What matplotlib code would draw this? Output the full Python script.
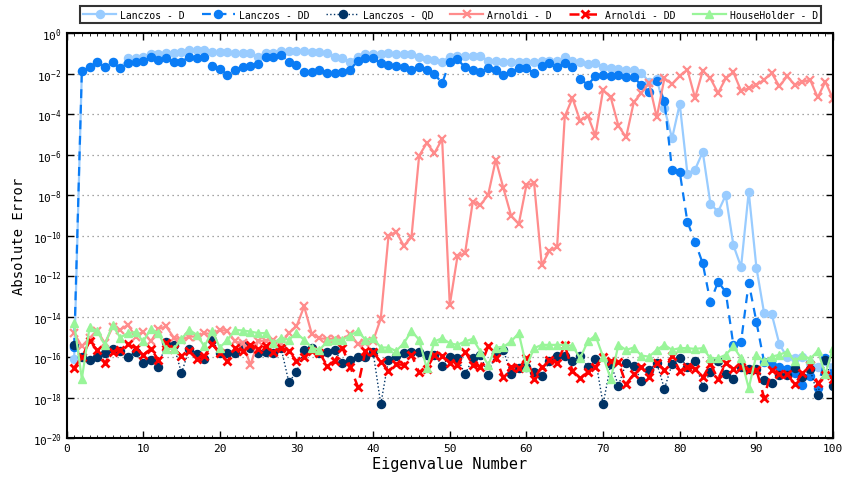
import matplotlib
matplotlib.use("Agg")
import matplotlib.pyplot as plt
from matplotlib.ticker import FixedLocator, FuncFormatter, MultipleLocator
import numpy as np

# exponents (log10 of the absolute error), eigenvalue 1..100
eig = np.arange(1, 101)

lanczos_d = [
    -16.1, -1.89, -1.69, -1.42, -1.69, -1.45, -1.74, -1.25, -1.22, -1.17,
    -1.05, -1.02, -0.97, -0.97, -0.94, -0.84, -0.84, -0.84, -0.94, -0.94,
    -0.94, -0.97, -1.00, -1.00, -1.17, -0.97, -0.97, -0.89, -0.89, -0.89,
    -0.89, -0.92, -0.92, -0.97, -1.17, -1.25, -1.42, -1.17, -1.05, -1.05,
    -1.05, -1.00, -1.05, -1.05, -1.05, -1.17, -1.28, -1.33, -1.42, -1.17,
    -1.12, -1.12, -1.12, -1.12, -1.37, -1.37, -1.42, -1.42, -1.45, -1.45,
    -1.42, -1.37, -1.37, -1.37, -1.20, -1.37, -1.45, -1.53, -1.50, -1.69,
    -1.74, -1.78, -1.81, -1.84, -1.98, -2.40, -2.27, -3.72, -5.20, -3.50,
    -6.94, -6.74, -5.87, -8.42, -8.83, -8.01, -10.48, -11.55, -7.84, -11.58,
    -13.82, -13.88, -15.37, -16.00, -16.06, -16.02, -16.30, -16.50, -16.20, -16.47,
]

lanczos_dd = [
    -15.5, -1.89, -1.69, -1.42, -1.69, -1.45, -1.74, -1.50, -1.42, -1.38,
    -1.20, -1.32, -1.25, -1.45, -1.42, -1.17, -1.23, -1.17, -1.61, -1.78,
    -2.06, -1.81, -1.69, -1.61, -1.53, -1.17, -1.17, -1.07, -1.42, -1.56,
    -1.91, -1.91, -1.81, -1.98, -1.98, -1.91, -1.81, -1.37, -1.25, -1.25,
    -1.50, -1.56, -1.61, -1.69, -1.84, -1.69, -1.81, -2.02, -2.48, -1.42,
    -1.30, -1.69, -1.81, -1.94, -1.74, -1.81, -2.07, -1.91, -1.74, -1.74,
    -1.98, -1.61, -1.50, -1.69, -1.50, -1.69, -2.27, -2.55, -2.14, -2.07,
    -2.14, -2.07, -2.19, -2.19, -2.57, -2.93, -2.35, -3.37, -6.77, -6.86,
    -9.33, -10.31, -11.38, -13.28, -12.29, -12.78, -15.42, -15.25, -12.32, -14.26,
    -16.24, -16.40, -16.49, -16.57, -16.77, -17.36, -16.93, -17.52, -16.04, -16.90,
]

lanczos_qd = [
    -15.40, -16.02, -16.14, -16.02, -15.81, -15.60, -15.70, -15.98, -15.76, -16.30,
    -16.14, -16.47, -15.27, -15.43, -16.80, -15.60, -15.86, -16.09, -15.15, -15.81,
    -15.81, -15.81, -15.43, -15.56, -15.81, -15.73, -15.81, -15.56, -17.24, -16.75,
    -15.65, -15.53, -15.81, -15.76, -15.65, -16.30, -16.14, -15.98, -15.98, -15.76,
    -18.33, -16.14, -15.93, -15.81, -15.76, -15.76, -15.89, -15.90, -16.42, -15.98,
    -16.06, -16.85, -16.06, -15.90, -16.88, -15.80, -15.65, -16.85, -16.55, -16.47,
    -16.72, -16.96, -16.22, -15.93, -15.93, -16.22, -15.93, -16.47, -16.09, -18.33,
    -16.35, -17.41, -16.30, -16.42, -17.18, -16.63, -16.30, -17.57, -16.35, -16.06,
    -16.47, -16.22, -17.46, -16.75, -16.19, -16.85, -17.10, -16.47, -16.58, -16.60,
    -17.13, -17.29, -16.91, -16.91, -16.55, -17.00, -16.60, -17.87, -16.14, -17.41,
]

arnoldi_d = [
    -14.82, -15.48, -15.07, -14.69, -15.32, -14.54, -14.66, -14.41, -14.99, -14.74,
    -15.23, -14.61, -14.49, -15.04, -15.15, -14.99, -14.99, -14.82, -14.87, -14.66,
    -14.71, -15.23, -15.32, -16.39, -15.20, -15.20, -15.15, -15.37, -14.82, -14.49,
    -13.50, -14.86, -15.08, -15.10, -15.10, -15.15, -14.86, -15.36, -15.30, -15.20,
    -14.10, -10.04, -9.81, -10.50, -10.09, -6.06, -5.43, -5.93, -5.23, -13.43,
    -11.03, -10.86, -8.33, -8.49, -8.00, -6.26, -7.67, -9.02, -9.43, -7.51,
    -7.41, -11.46, -10.75, -10.58, -4.12, -3.21, -4.33, -4.08, -5.07, -2.81,
    -3.18, -4.58, -5.15, -3.42, -2.96, -2.47, -4.16, -2.24, -2.52, -2.11,
    -1.81, -3.21, -1.86, -2.24, -2.96, -2.24, -1.94, -2.85, -2.73, -2.57,
    -2.30, -1.98, -2.63, -2.14, -2.55, -2.43, -2.30, -3.18, -2.40, -3.26,
]

arnoldi_dd = [
    -16.52, -16.02, -15.23, -15.65, -16.30, -15.73, -15.65, -15.37, -15.56, -15.89,
    -15.60, -16.14, -15.32, -15.60, -15.93, -15.70, -16.09, -15.93, -15.37, -15.81,
    -16.22, -15.56, -15.70, -15.40, -15.60, -15.48, -15.76, -15.56, -15.70, -16.19,
    -16.02, -15.70, -15.80, -16.42, -16.19, -15.56, -16.47, -17.46, -15.70, -15.76,
    -16.25, -16.68, -16.35, -16.39, -15.89, -16.75, -16.58, -15.89, -15.93, -16.30,
    -16.39, -15.73, -16.39, -16.47, -15.48, -16.06, -17.01, -16.47, -16.55, -16.06,
    -17.08, -16.47, -16.14, -16.30, -15.40, -16.68, -17.05, -16.75, -16.47, -16.02,
    -16.20, -16.25, -17.33, -16.85, -16.47, -17.01, -16.30, -16.63, -15.93, -16.68,
    -16.47, -16.58, -17.01, -16.35, -17.08, -16.30, -16.58, -16.47, -16.63, -16.63,
    -18.00, -16.63, -16.85, -16.85, -17.34, -16.80, -16.39, -17.30, -16.90, -17.08,
]

householder_d = [
    -14.33, -17.08, -14.54, -14.71, -15.40, -14.41, -15.04, -14.82, -14.77, -15.23,
    -14.61, -14.82, -15.60, -15.60, -15.10, -14.66, -14.90, -15.48, -14.71, -15.53,
    -15.15, -14.66, -14.69, -14.74, -14.82, -14.82, -15.32, -15.04, -15.15, -14.82,
    -15.15, -15.53, -15.65, -15.23, -15.15, -15.15, -14.94, -14.71, -15.15, -15.07,
    -15.53, -15.53, -15.70, -15.32, -14.71, -15.15, -16.55, -15.23, -15.07, -15.32,
    -15.40, -15.23, -15.10, -15.73, -16.39, -15.53, -15.50, -15.23, -14.82, -16.47,
    -15.56, -15.40, -15.40, -15.40, -15.40, -15.45, -16.06, -15.23, -14.94, -15.98,
    -17.08, -15.40, -15.65, -15.53, -15.93, -15.98, -15.65, -15.40, -15.65, -15.56,
    -15.56, -15.60, -15.56, -16.06, -16.06, -15.89, -15.48, -16.06, -17.54, -15.89,
    -16.22, -15.98, -15.89, -15.73, -16.22, -15.90, -16.10, -15.70, -16.85, -15.53,
]

plt.rcParams['font.family'] = ['DejaVu Sans Mono']
plt.rcParams['mathtext.fontset'] = 'custom'
plt.rcParams['mathtext.rm'] = 'DejaVu Sans Mono'
plt.rcParams['mathtext.it'] = 'DejaVu Sans Mono'

fig = plt.figure(figsize=(8.43, 4.85), dpi=100)
ax = fig.add_axes([0.0789, 0.0948, 0.9093, 0.835])

series = [
    ("Lanczos - D", lanczos_d, dict(color="#99CCFF", ls="-", lw=1.6, marker="o", ms=5.8)),
    ("Lanczos - DD", lanczos_dd, dict(color="#0A7CF5", ls="--", lw=1.6, marker="o", ms=5.8, dashes=(4, 3))),
    ("Lanczos - QD", lanczos_qd, dict(color="#003366", ls=":", lw=1.0, marker="o", ms=5.8)),
    ("Arnoldi - D", arnoldi_d, dict(color="#FF8C8C", ls="-", lw=1.6, marker="x", ms=5.5, mew=1.6)),
    ("Arnoldi - DD", arnoldi_dd, dict(color="#FF0000", ls="--", lw=1.8, marker="x", ms=5.5, mew=2.0, dashes=(4, 3))),
    ("HouseHolder - D", householder_d, dict(color="#99F599", ls="-", lw=1.6, marker="^", ms=6)),
]

for label, vals, style in series:
    ax.plot(eig, 10.0 ** np.array(vals), label=label, **style)

ax.set_yscale("log")
ax.set_xlim(0, 100)
ax.set_ylim(1e-20, 1)

ax.yaxis.set_major_locator(FixedLocator([10.0 ** e for e in range(-20, 1, 2)]))
ax.yaxis.set_minor_locator(FixedLocator([]))
ax.yaxis.set_major_formatter(FuncFormatter(lambda v, p: r"$10^{%d}$" % round(np.log10(v))))
ax.xaxis.set_major_locator(MultipleLocator(10))
ax.xaxis.set_minor_locator(MultipleLocator(1))

ax.tick_params(which="both", direction="in", top=True, right=True, labelsize=8)
ax.tick_params(which="major", length=5, width=1)
ax.tick_params(which="minor", length=2, width=0.6)
ax.grid(axis="y", which="major", ls=(0, (1, 3)), color="#888888", lw=0.9)
for s in ax.spines.values():
    s.set_linewidth(1.5)

ax.set_xlabel("Eigenvalue Number", fontsize=11, labelpad=2)
ax.set_ylabel("Absolute Error", fontsize=10, labelpad=5)

leg = ax.legend(loc="lower left", bbox_to_anchor=(0.0176, 1.0247, 0.967, 0.049),
                mode="expand", ncol=6, fontsize=7, frameon=True, fancybox=False,
                handlelength=3.4, handletextpad=0.4, columnspacing=0.8,
                borderaxespad=0, borderpad=0.35)
leg.get_frame().set_edgecolor("black")
leg.get_frame().set_linewidth(1.5)

fig.savefig("out.png", dpi=100)
